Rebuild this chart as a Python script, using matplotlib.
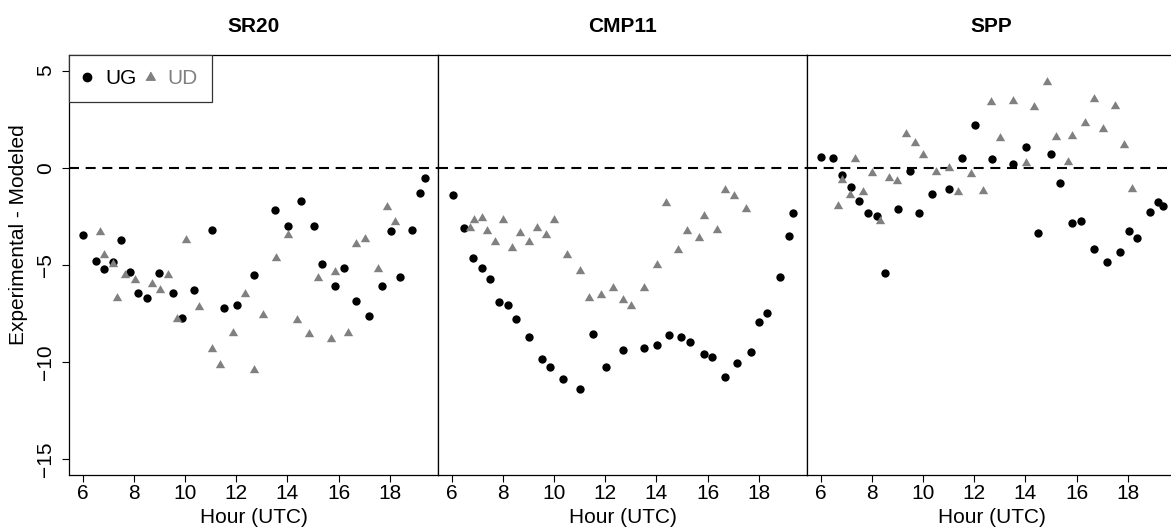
import matplotlib
matplotlib.use("Agg")
import matplotlib.pyplot as plt
from matplotlib.lines import Line2D

plt.rcParams["font.family"] = ["Liberation Sans", "DejaVu Sans"]
plt.rcParams["font.size"] = 15

PANELS = ["SR20", "CMP11", "SPP"]

# SR20
sr20_ug_hour = [6.00, 6.52, 6.84, 7.17, 7.50, 7.85, 8.17, 8.52, 8.99, 9.54, 9.87, 10.35,
                11.04, 11.52, 12.02, 12.69, 13.51, 14.03, 14.52, 15.04, 15.36, 15.86,
                16.21, 16.70, 17.20, 17.70, 18.03, 18.39, 18.88, 19.20, 19.38]
sr20_ug_diff = [-3.46, -4.79, -5.22, -4.86, -3.73, -5.38, -6.42, -6.71, -5.41, -6.42, -7.74,
                -6.28, -3.22, -7.19, -7.06, -5.51, -2.19, -2.98, -1.71, -3.00, -4.95, -6.08,
                -5.15, -6.85, -7.62, -6.06, -3.24, -5.60, -3.19, -1.30, -0.51]
sr20_ud_hour = [6.68, 6.84, 7.20, 7.35, 7.65, 8.04, 8.70, 9.02, 9.35, 9.67, 10.02, 10.53,
                11.04, 11.38, 11.86, 12.35, 12.69, 13.03, 13.54, 14.03, 14.36, 14.85,
                15.20, 15.69, 15.87, 16.35, 16.69, 17.04, 17.54, 17.88, 18.20]
sr20_ud_diff = [-3.32, -4.49, -4.97, -6.68, -5.51, -5.77, -5.99, -6.28, -5.51, -7.77, -3.73,
                -7.14, -9.33, -10.15, -8.48, -6.49, -10.40, -7.57, -4.66, -3.46, -7.83,
                -8.55, -5.65, -8.82, -5.38, -8.51, -3.94, -3.66, -5.19, -2.04, -2.77]

# CMP11
cmp11_ug_hour = [6.04, 6.49, 6.84, 7.20, 7.51, 7.85, 8.19, 8.51, 9.01, 9.52, 9.85, 10.35,
                 11.01, 11.51, 12.03, 12.68, 13.50, 14.02, 14.50, 14.98, 15.32, 15.86,
                 16.18, 16.68, 17.14, 17.68, 18.00, 18.33, 18.84, 19.18, 19.34]
cmp11_ug_diff = [-1.42, -3.12, -4.62, -5.17, -5.72, -6.90, -7.07, -7.79, -8.68, -9.85, -10.26,
                 -10.87, -11.39, -8.55, -10.22, -9.37, -9.28, -9.11, -8.61, -8.70, -8.97,
                 -9.56, -9.74, -10.76, -10.02, -9.49, -7.91, -7.48, -5.63, -3.49, -2.34]
cmp11_ud_hour = [6.71, 6.87, 7.20, 7.37, 7.70, 8.02, 8.36, 8.68, 9.01, 9.34, 9.68, 10.01,
                 10.50, 11.02, 11.36, 11.84, 12.31, 12.68, 13.00, 13.50, 14.02, 14.36,
                 14.84, 15.19, 15.67, 15.87, 16.35, 16.68, 17.03, 17.50]
cmp11_ud_diff = [-3.12, -2.69, -2.60, -3.25, -3.82, -2.69, -4.11, -3.34, -3.82, -3.12, -3.46,
                 -2.69, -4.47, -5.29, -6.71, -6.56, -6.20, -6.81, -7.11, -6.20, -5.02, -1.83,
                 -4.23, -3.25, -3.60, -2.47, -3.19, -1.13, -1.47, -2.14]

# SPP
spp_ug_hour = [6.00, 6.49, 6.82, 7.17, 7.51, 7.84, 8.19, 8.51, 9.01, 9.49, 9.83, 10.36,
               11.01, 11.51, 12.02, 12.68, 13.50, 14.02, 14.50, 14.99, 15.34, 15.84,
               16.19, 16.68, 17.18, 17.68, 18.03, 18.36, 18.85, 19.19, 19.36]
spp_ug_diff = [0.57, 0.51, -0.38, -1.01, -1.71, -2.33, -2.47, -5.43, -2.12, -0.14, -2.33,
               -1.35, -1.08, 0.48, 2.19, 0.43, 0.17, 1.08, -3.37, 0.69, -0.77, -2.84,
               -2.72, -4.18, -4.86, -4.35, -3.25, -3.60, -2.26, -1.75, -1.98]
spp_ud_hour = [6.66, 6.82, 7.14, 7.34, 7.64, 7.99, 8.32, 8.66, 8.99, 9.33, 9.67, 10.01,
               10.50, 11.02, 11.36, 11.86, 12.35, 12.65, 13.00, 13.50, 14.01, 14.33,
               14.85, 15.18, 15.67, 15.84, 16.33, 16.68, 17.02, 17.50, 17.85, 18.17]
spp_ud_diff = [-1.95, -0.63, -1.40, 0.45, -1.23, -0.29, -2.72, -0.55, -0.70, 1.72, 1.25,
               0.65, -0.24, 0.00, -1.27, -0.32, -1.20, 3.39, 1.54, 3.43, 0.26, 3.13,
               4.42, 1.59, 0.28, 1.63, 2.30, 3.53, 1.99, 3.19, 1.15, -1.11]

UG = [(sr20_ug_hour, sr20_ug_diff), (cmp11_ug_hour, cmp11_ug_diff), (spp_ug_hour, spp_ug_diff)]
UD = [(sr20_ud_hour, sr20_ud_diff), (cmp11_ud_hour, cmp11_ud_diff), (spp_ud_hour, spp_ud_diff)]

X_TICKS = [6, 8, 10, 12, 14, 16, 18]
Y_TICKS = [-15, -10, -5, 0, 5]
GRAY = "#808080"
# R-style filled triangle (pch 17), centred on its centroid
TRI = [(0, 1.555), (1.3468, -0.7776), (-1.3468, -0.7776)]

W, H = 1171, 531
fig = plt.figure(figsize=(W / 100, H / 100), dpi=100)

PAN_LEFT, PAN_W = 69, 369
PAN_TOP, PAN_BOT = 55, 475

for p, name in enumerate(PANELS):
    left = PAN_LEFT + PAN_W * p
    ax = fig.add_axes([left / W, (H - PAN_BOT) / H, PAN_W / W, (PAN_BOT - PAN_TOP) / H])
    ax.scatter(*UG[p], s=36, marker="o", color="black", linewidths=0, zorder=3)
    ax.scatter(*UD[p], s=60, marker=TRI, color=GRAY, linewidths=0, zorder=3)
    ax.axhline(0, color="black", lw=1.5, dashes=(4.8, 3.2), zorder=2)

    ax.set_xlim(5.465, 19.885)
    ax.set_ylim(-15.8, 5.8)
    ax.set_xticks(X_TICKS)
    ax.tick_params(axis="x", length=5, width=0.8, pad=1.2, labelsize=15)
    for s in ax.spines.values():
        s.set_linewidth(0.9)
        s.set_color("black")

    if p == 0:
        ax.set_yticks(Y_TICKS)
        ax.tick_params(axis="y", length=5, width=0.8, pad=5, labelsize=15)
        for lab in ax.get_yticklabels():
            lab.set_rotation(90)
            lab.set_va("center")
        handles = [Line2D([], [], ls="none", marker="o", color="black", markersize=6),
                   Line2D([], [], ls="none", marker=TRI, color=GRAY, markersize=7.8)]
        leg = ax.legend(handles, ["UG", "UD"], loc="upper left", bbox_to_anchor=(0, 1),
                        borderaxespad=0, ncol=2, fancybox=False, framealpha=1,
                        edgecolor="#333333", handlelength=0.4, handletextpad=0.65,
                        columnspacing=0.45, borderpad=0.68, fontsize=15)
        leg.get_frame().set_linewidth(0.9)
        leg.get_texts()[1].set_color(GRAY)
    else:
        ax.set_yticks([])

    cx = (left + PAN_W / 2) / W
    fig.text(cx, 1 - 32 / H, name, ha="center", va="baseline", fontweight="bold", fontsize=15)
    fig.text(cx, 7.7 / H, "Hour (UTC)", ha="center", va="baseline", fontsize=15)

fig.text(19 / W, 1 - 235 / H, "Experimental - Modeled", rotation=90,
         ha="center", va="center", fontsize=15)

fig.savefig("out.png", dpi=100)
plt.close(fig)
